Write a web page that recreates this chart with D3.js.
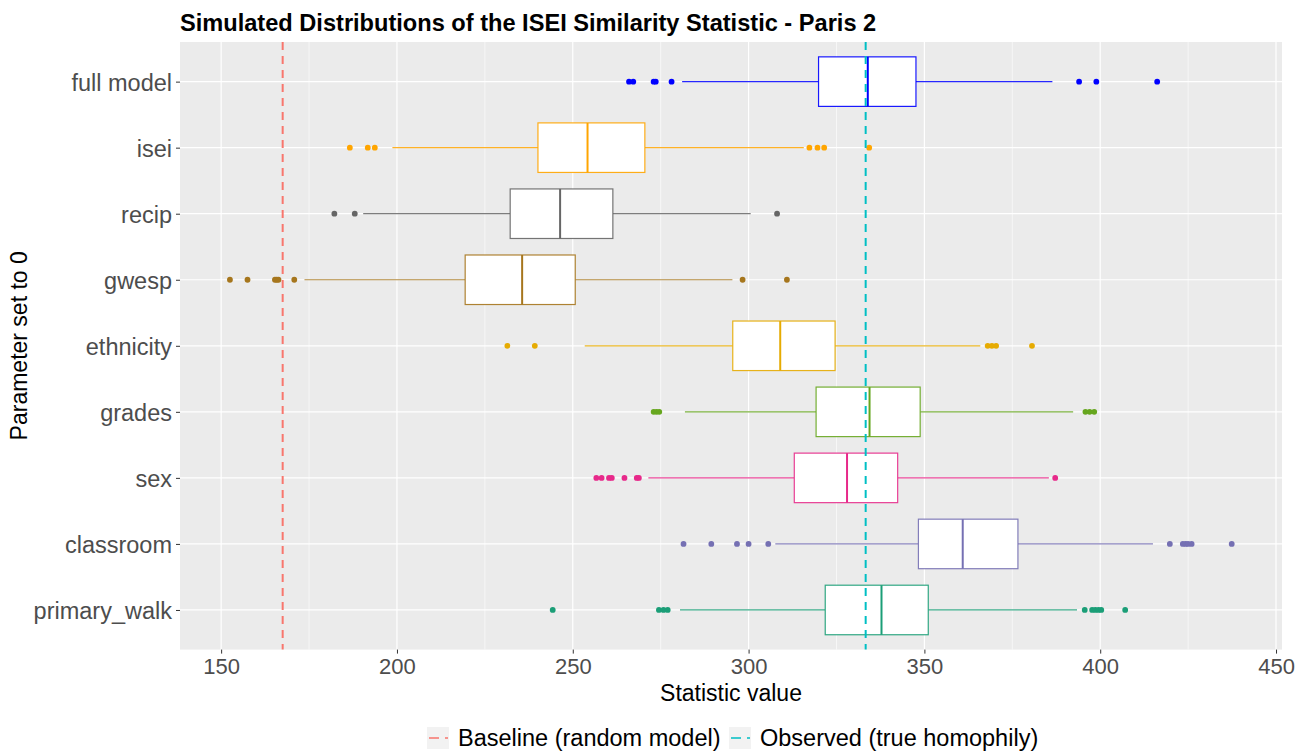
<!DOCTYPE html>
<head>
<meta charset="utf-8">
<title>ISEI similarity - Paris 2</title>
<script src="https://cdnjs.cloudflare.com/ajax/libs/d3/7.8.5/d3.min.js"></script>
<style>
body { margin: 0; background: #fff; }
text { font-family: "Liberation Sans", Arial, sans-serif; }
</style>
</head>
<body>
<script>
// values
var categories = ["full model", "isei", "recip", "gwesp", "ethnicity", "grades", "sex", "classroom", "primary_walk"];
var colors = ["#0000FF", "#FFA500", "#666666", "#A6761D", "#E6AB02", "#66A61E", "#E7298A", "#7570B3", "#1B9E77"];
var lower  = [281.1, 198.7, 190.4, 173.7, 253.4, 281.9, 271.5, 307.6, 280.5];
var q1     = [319.9, 240.1, 232.2, 219.4, 295.5, 319.2, 313.0, 348.3, 321.8];
var median = [333.9, 254.2, 246.4, 235.6, 309.0, 334.4, 328.0, 360.9, 337.8];
var q3     = [347.6, 270.5, 261.4, 250.7, 324.6, 348.8, 342.4, 376.6, 351.1];
var upper  = [386.4, 315.7, 300.6, 295.4, 365.9, 392.3, 385.4, 415.0, 393.4];
var outliers = [
  [266.0, 267.2, 273.0, 273.6, 278.1, 394.0, 398.9, 416.2],
  [186.6, 191.7, 193.7, 317.3, 319.6, 321.5, 334.3],
  [182.2, 188.0, 308.1],
  [152.5, 157.5, 165.3, 165.8, 166.3, 170.8, 298.3, 310.9],
  [231.4, 239.2, 368.0, 369.2, 370.4, 380.6],
  [273.0, 273.8, 274.6, 395.8, 397.0, 398.3],
  [256.7, 258.2, 260.3, 261.1, 264.7, 268.2, 268.8, 387.2],
  [281.5, 289.4, 296.7, 300.0, 305.6, 419.8, 423.5, 424.3, 425.0, 426.0, 437.4],
  [244.3, 274.5, 275.8, 277.0, 395.6, 397.7, 398.6, 399.5, 400.3, 407.1]
];
var xTicks = [150, 200, 250, 300, 350, 400, 450];
var xMinor = [175, 225, 275, 325, 375, 425];
var refNames = ["Baseline (random model)", "Observed (true homophily)"];
var refValues = [167.5, 333.3];
var refColors = ["#F8766D", "#00BFC4"];

var W = 1305, H = 754;
var pLeft = 180, pRight = 1282, pTop = 42, pBottom = 649.6;

var svg = d3.select("body").append("svg")
    .attr("width", W)
    .attr("height", H);

var x = d3.scaleLinear().domain([138.3, 451.7]).range([pLeft, pRight]);
var y = d3.scalePoint().domain(categories).range([pTop, pBottom]).padding(0.6);
var half = y.step() * 0.375;

// panel
svg.append("rect")
    .attr("x", pLeft).attr("y", pTop)
    .attr("width", pRight - pLeft).attr("height", pBottom - pTop)
    .attr("fill", "#EBEBEB");

svg.selectAll(".minor").data(xMinor).enter().append("line")
    .attr("x1", d => x(d)).attr("x2", d => x(d))
    .attr("y1", pTop).attr("y2", pBottom)
    .attr("stroke", "#fff").attr("stroke-width", 0.6);

svg.selectAll(".vgrid").data(xTicks).enter().append("line")
    .attr("x1", d => x(d)).attr("x2", d => x(d))
    .attr("y1", pTop).attr("y2", pBottom)
    .attr("stroke", "#fff").attr("stroke-width", 1.2);

svg.selectAll(".hgrid").data(categories).enter().append("line")
    .attr("x1", pLeft).attr("x2", pRight)
    .attr("y1", d => y(d)).attr("y2", d => y(d))
    .attr("stroke", "#fff").attr("stroke-width", 1.2);

// axes
var xAxis = svg.append("g")
    .attr("transform", "translate(0," + pBottom + ")")
    .call(d3.axisBottom(x).tickValues(xTicks).tickSize(4).tickPadding(5));
xAxis.select(".domain").remove();
xAxis.selectAll("line").attr("stroke", "#333");
xAxis.selectAll("text").attr("font-size", 22).attr("fill", "#4D4D4D")
    .attr("font-family", "Liberation Sans, Arial, sans-serif");

var yAxis = svg.append("g")
    .attr("transform", "translate(" + pLeft + ",0)")
    .call(d3.axisLeft(y).tickSize(4).tickPadding(4));
yAxis.select(".domain").remove();
yAxis.selectAll("line").attr("stroke", "#333");
yAxis.selectAll("text").attr("font-size", 23.5).attr("fill", "#4D4D4D")
    .attr("dy", "0.36em")
    .attr("font-family", "Liberation Sans, Arial, sans-serif");

// boxes
var boxes = svg.selectAll(".box").data(categories).enter().append("g");

boxes.append("line")
    .attr("x1", (d, i) => x(lower[i])).attr("x2", (d, i) => x(q1[i]))
    .attr("y1", d => y(d)).attr("y2", d => y(d))
    .attr("stroke", (d, i) => colors[i]).attr("stroke-width", 1.2).attr("stroke-opacity", 0.85);
boxes.append("line")
    .attr("x1", (d, i) => x(q3[i])).attr("x2", (d, i) => x(upper[i]))
    .attr("y1", d => y(d)).attr("y2", d => y(d))
    .attr("stroke", (d, i) => colors[i]).attr("stroke-width", 1.2).attr("stroke-opacity", 0.85);
boxes.append("rect")
    .attr("x", (d, i) => x(q1[i])).attr("width", (d, i) => x(q3[i]) - x(q1[i]))
    .attr("y", d => y(d) - half).attr("height", half * 2)
    .attr("fill", "#fff")
    .attr("stroke", (d, i) => colors[i]).attr("stroke-width", 1.2).attr("stroke-opacity", 0.9);
boxes.append("line")
    .attr("x1", (d, i) => x(median[i])).attr("x2", (d, i) => x(median[i]))
    .attr("y1", d => y(d) - half).attr("y2", d => y(d) + half)
    .attr("stroke", (d, i) => colors[i]).attr("stroke-width", 2);

boxes.selectAll("circle")
    .data((d, i) => outliers[i].map(v => ({ v: v, c: d, i: i })))
    .enter().append("circle")
    .attr("cx", d => x(d.v)).attr("cy", d => y(d.c))
    .attr("r", 2.9)
    .attr("fill", d => colors[d.i]);

// reference lines
svg.selectAll(".ref").data(refValues).enter().append("line")
    .attr("x1", d => x(d)).attr("x2", d => x(d))
    .attr("y1", pTop).attr("y2", pBottom)
    .attr("stroke", (d, i) => refColors[i])
    .attr("stroke-width", 2)
    .attr("stroke-dasharray", "8,6");

// titles
svg.append("text")
    .attr("x", pLeft).attr("y", 31)
    .attr("font-size", 23.6).attr("font-weight", "bold")
    .text("Simulated Distributions of the ISEI Similarity Statistic - Paris 2");

svg.append("text")
    .attr("x", (pLeft + pRight) / 2).attr("y", 701)
    .attr("text-anchor", "middle").attr("font-size", 23)
    .text("Statistic value");

svg.append("text")
    .attr("transform", "translate(27," + (pTop + pBottom) / 2 + ") rotate(-90)")
    .attr("text-anchor", "middle").attr("font-size", 23)
    .text("Parameter set to 0");

// legend
var keyX = [427, 729];
var leg = svg.selectAll(".leg").data(refNames).enter().append("g")
    .attr("transform", (d, i) => "translate(" + keyX[i] + ",727)");
leg.append("rect")
    .attr("width", 22).attr("height", 22)
    .attr("fill", "#F2F2F2");
leg.append("line")
    .attr("x1", 2).attr("x2", 21).attr("y1", 11).attr("y2", 11)
    .attr("stroke", (d, i) => refColors[i])
    .attr("stroke-width", 1.6)
    .attr("stroke-dasharray", "10,6");
leg.append("text")
    .attr("x", 31).attr("y", 19)
    .attr("font-size", 23.5)
    .text(d => d);
</script>
</body>
